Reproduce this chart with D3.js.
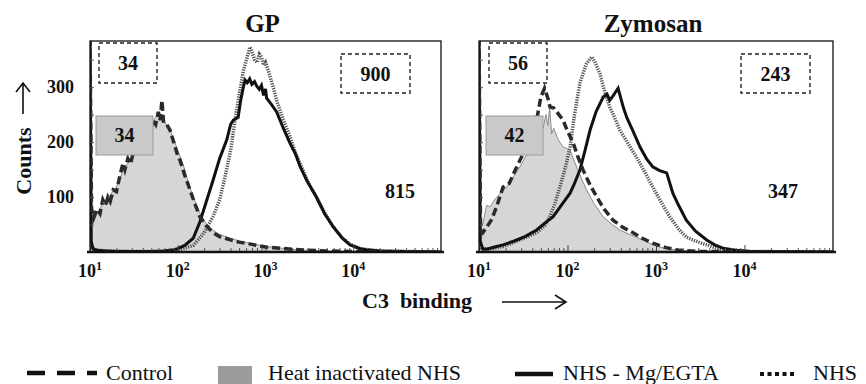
<!DOCTYPE html>
<html><head><meta charset="utf-8">
<script src="https://cdn.jsdelivr.net/npm/d3@7"></script>
<style>
body{margin:0;background:#fff}
svg{display:block}
text{font-family:"Liberation Serif","Times New Roman",serif;fill:#111}
</style>
</head><body>
<svg id="chart" width="866" height="384"></svg>
<script>
// ---------------- DATA ----------------
const panelTitles = ["GP", "Zymosan"];
const seriesNames = ["Control", "Heat inactivated NHS", "NHS - Mg/EGTA", "NHS"];
const xTickValues = [10, 100, 1000, 10000];
const xTickExponents = ["1", "2", "3", "4"];
const yTickValues = [50, 100, 150, 200, 250, 300, 350];
const yLabelValues = [100, 200, 300];
const xAxisTitle = "C3\u00A0\u00A0binding";
const yAxisTitle = "Counts";

// [fluorescence, counts]
const gpControl = [[10,390],[10.4,80],[11,62],[12,78],[13,70],[14,95],[15,85],[16,100],[17,92],[18.4,113],[20,110],[22,140],[23.8,162],[25,150],[27,170],[29,160],[31,180],[34,185],[38,205],[41,195],[44,227],[48,215],[52,240],[56,232],[60,255],[63,240],[66,276],[69,235],[75,232],[81.5,222],[90,200],[100,175],[106,167],[120,140],[138,113],[155,90],[179,64],[210,48],[253,35],[300,28],[400,22],[500,18],[610,16],[800,12],[1000,9],[1460,7],[2000,5],[3000,3],[5000,2],[10000,1],[100000,0]];
const gpHeat = [[10,390],[10.4,65],[11,55],[12,70],[14,88],[16,95],[18,110],[20,118],[24,150],[28,165],[32,180],[38,200],[44,220],[50,235],[56,245],[62,250],[70,238],[80,225],[90,205],[100,185],[115,160],[130,130],[150,100],[180,70],[210,52],[250,40],[300,32],[400,25],[500,20],[700,15],[1000,10],[1500,7],[2000,5],[3000,3],[5000,2],[10000,1],[100000,0]];
const gpMgEgta = [[10,390],[10.3,20],[10.8,6],[12,3],[15,2],[20,1],[30,1],[50,1],[70,2],[90,4],[100,6],[120,12],[150,25],[179,55],[210,90],[253,131],[300,170],[362,204],[400,232],[430,240],[488,245],[520,275],[556,298],[585,313],[620,308],[660,315],[700,305],[750,310],[793,302],[850,296],[900,303],[950,285],[1000,297],[1030,280],[1150,270],[1340,255],[1600,225],[1900,198],[2200,178],[2490,155],[3000,128],[3800,100],[4700,70],[5900,46],[7500,25],[9200,13],[12000,6],[14000,4],[20000,2],[40000,1],[100000,0]];
const gpNhs = [[10,390],[10.3,15],[11,4],[15,2],[30,1],[60,1],[100,3],[150,12],[200,35],[253,65],[300,95],[350,140],[400,185],[450,240],[500,285],[560,330],[620,355],[665,373],[700,365],[750,350],[800,345],[850,360],[900,355],[950,340],[1000,345],[1100,325],[1200,305],[1340,276],[1600,240],[1900,210],[2200,180],[2490,160],[3000,130],[3800,100],[4700,72],[5900,46],[7500,26],[9200,14],[12000,6],[20000,2],[40000,1],[100000,0]];

const zyControl = [[10,390],[10.4,40],[11,35],[12.2,45],[14,60],[16,85],[18.7,118],[22,125],[25,145],[29,167],[33,185],[38,210],[44.8,240],[50,282],[55,298],[60,280],[63.5,264],[70,262],[80,250],[89,240],[100,220],[116,198],[130,175],[150,149],[180,122],[214,100],[260,78],[327,58],[420,45],[550,35],[700,25],[920,16],[1300,8],[1860,3],[3000,1],[100000,0]];
const zyHeat = [[10,390],[10.4,55],[11,50],[12.2,85],[13.3,82],[15,95],[17,105],[20.5,118],[24,135],[29,155],[34,175],[41,198],[46,215],[49,234],[53,225],[57,250],[60,230],[63,264],[66,215],[70,225],[78,205],[89,191],[100,188],[107,185],[130,150],[164,113],[200,88],[253,64],[320,50],[390,40],[500,32],[600,27],[750,20],[920,13],[1100,9],[1430,5],[2000,3],[3000,1],[100000,0]];
const zyMgEgta = [[10,390],[10.3,20],[11,6],[12.2,5],[15,9],[18.7,13],[25,20],[33,28],[44.8,40],[55,52],[68.5,64],[85,85],[107,107],[120,125],[138,149],[155,180],[180,222],[210,255],[253,282],[280,287],[300,276],[330,285],[373,298],[400,280],[430,262],[467,245],[550,220],[660,191],[780,170],[920,155],[1100,148],[1320,144],[1550,107],[1800,85],[2200,58],[2800,38],[3740,22],[4600,13],[5700,7],[8000,3],[12000,1],[100000,0]];
const zyNhs = [[10,390],[10.3,10],[11,5],[14,6],[18.7,10],[25,18],[33,26],[44.8,35],[55,48],[63,64],[72,88],[82,118],[95,155],[107,191],[120,250],[138,307],[150,325],[164,343],[188,355],[205,345],[232,325],[260,295],[300,264],[340,245],[390,222],[480,198],[600,173],[750,145],[920,118],[1150,90],[1430,64],[1800,42],[2200,27],[3000,18],[3740,13],[5000,6],[7000,2],[10000,1],[100000,0]];

// box values: [dashed top-left, grey, dashed right, plain]
const gpBoxValues = ["34", "34", "900", "815"];
const zyBoxValues = ["56", "42", "243", "347"];

// ---------------- LAYOUT ----------------
const svg = d3.select("#chart");
const FONT = '"Liberation Serif","Times New Roman",serif';
const plotTop = 41, plotBottom = 252;
const panels = [
  {title: panelTitles[0], x0: 90, x1: 441, series: [gpHeat, gpNhs, gpMgEgta, gpControl], boxes: gpBoxValues, labels: true,
   bx: {d1: 9, g: 6, d2: 251, p: 310}},
  {title: panelTitles[1], x0: 479, x1: 833, series: [zyHeat, zyNhs, zyMgEgta, zyControl], boxes: zyBoxValues, labels: false,
   bx: {d1: 10, g: 7, d2: 262, p: 304}}
];
const y = d3.scaleLinear().domain([0, 384]).range([plotBottom, plotTop]);

panels.forEach((p, i) => {
  const x = d3.scaleLog().domain([10, 100000]).range([p.x0, p.x1]);
  const g = svg.append("g");
  const clipId = "clip" + i;
  svg.append("clipPath").attr("id", clipId).append("rect")
    .attr("x", p.x0).attr("y", plotTop).attr("width", p.x1 - p.x0).attr("height", plotBottom - plotTop);

  const line = d3.line().x(d => x(d[0])).y(d => y(d[1]));
  const area = d3.area().x(d => x(d[0])).y0(y(0)).y1(d => y(d[1]));
  const plot = g.append("g").attr("clip-path", `url(#${clipId})`);

  plot.append("path").datum(p.series[0]).attr("d", area).attr("fill", "#d6d6d6").attr("stroke", "#8a8a8a").attr("stroke-width", 1);
  plot.append("path").datum(p.series[1]).attr("d", line).attr("fill", "none").attr("stroke", "#555").attr("stroke-width", 3.5).attr("stroke-dasharray", "1.3,1.2");
  plot.append("path").datum(p.series[2]).attr("d", line).attr("fill", "none").attr("stroke", "#111").attr("stroke-width", 3);
  plot.append("path").datum(p.series[3]).attr("d", line).attr("fill", "none").attr("stroke", "#2a2a2a").attr("stroke-width", 3.5).attr("stroke-dasharray", "8,4");

  const minor = [];
  for (let e = 1; e < 5; e++) for (let k = 2; k < 10; k++) minor.push(k * Math.pow(10, e));
  g.append("g").attr("transform", `translate(0,${plotBottom})`)
    .call(d3.axisBottom(x).tickValues(minor).tickSize(-4).tickFormat(""))
    .call(a => { a.select(".domain").remove(); a.selectAll("line").attr("stroke", "#555"); });
  g.append("g").attr("transform", `translate(0,${plotBottom})`)
    .call(d3.axisBottom(x).tickValues(xTickValues).tickSize(-7).tickFormat(""))
    .call(a => { a.select(".domain").remove(); a.selectAll("line").attr("stroke", "#444"); });
  g.append("g").attr("transform", `translate(${p.x0},0)`)
    .call(d3.axisLeft(y).tickValues(yTickValues).tickSize(-4).tickPadding(16)
      .tickFormat(d => (p.labels && yLabelValues.includes(d)) ? d : ""))
    .call(a => {
      a.select(".domain").remove();
      a.selectAll("line").attr("stroke", "#555");
      a.selectAll("text").attr("font-family", FONT).attr("font-size", 18).attr("font-weight", "bold").attr("fill", "#111");
    });

  g.append("rect").attr("x", p.x0).attr("y", plotTop).attr("width", p.x1 - p.x0).attr("height", plotBottom - plotTop)
    .attr("fill", "none").attr("stroke", "#111").attr("stroke-width", 1.3);
  g.append("line").attr("x1", p.x0 - 3).attr("x2", p.x1 + 3).attr("y1", plotBottom).attr("y2", plotBottom)
    .attr("stroke", "#111").attr("stroke-width", 2.5);

  xTickValues.forEach((v, j) => {
    const t = g.append("text").attr("x", x(v)).attr("y", 277).attr("text-anchor", "middle")
      .attr("font-size", 18).attr("font-weight", "bold");
    t.append("tspan").text("10");
    t.append("tspan").attr("font-size", 12).attr("dy", -7).text(xTickExponents[j]);
  });

  g.append("text").attr("x", (p.x0 + p.x1) / 2 - 3).attr("y", 32).attr("text-anchor", "middle")
    .attr("font-size", 25).attr("font-weight", "bold").text(p.title);

  const bw = 58, bh = 40;
  const d1x = p.x0 + p.bx.d1;
  g.append("rect").attr("x", d1x).attr("y", 43).attr("width", bw).attr("height", bh)
    .attr("fill", "#fff").attr("stroke", "#222").attr("stroke-width", 1.4).attr("stroke-dasharray", "4,3");
  g.append("text").attr("x", d1x + bw / 2).attr("y", 70).attr("text-anchor", "middle").attr("font-size", 20).attr("font-weight", "bold").text(p.boxes[0]);
  const gx = p.x0 + p.bx.g;
  g.append("rect").attr("x", gx).attr("y", 116).attr("width", 57).attr("height", 39)
    .attr("fill", "#c9c9c9").attr("stroke", "#9a9a9a").attr("stroke-width", 1);
  g.append("text").attr("x", gx + 28.5).attr("y", 142).attr("text-anchor", "middle").attr("font-size", 20).attr("font-weight", "bold").text(p.boxes[1]);
  const d2x = p.x0 + p.bx.d2;
  g.append("rect").attr("x", d2x).attr("y", 54).attr("width", 69).attr("height", 39)
    .attr("fill", "#fff").attr("stroke", "#222").attr("stroke-width", 1.4).attr("stroke-dasharray", "4,3");
  g.append("text").attr("x", d2x + 34.5).attr("y", 81).attr("text-anchor", "middle").attr("font-size", 20).attr("font-weight", "bold").text(p.boxes[2]);
  g.append("text").attr("x", p.x0 + p.bx.p).attr("y", 198).attr("text-anchor", "middle").attr("font-size", 20).attr("font-weight", "bold").text(p.boxes[3]);
});

svg.append("text").attr("transform", "translate(31,161) rotate(-90)").attr("text-anchor", "middle")
  .attr("font-size", 22).attr("font-weight", "bold").text(yAxisTitle);
svg.append("path").attr("d", "M23,114 L23,83 M16,92 L23,83 L30,92").attr("fill", "none").attr("stroke", "#111").attr("stroke-width", 1.6);

svg.append("text").attr("x", 362).attr("y", 308).attr("font-size", 22).attr("font-weight", "bold").text(xAxisTitle);
svg.append("path").attr("d", "M502,302 L566,302 M555,295 L566,302 L555,309").attr("fill", "none").attr("stroke", "#111").attr("stroke-width", 1.6);

const lg = svg.append("g");
lg.append("line").attr("x1", 27).attr("x2", 97).attr("y1", 373).attr("y2", 373).attr("stroke", "#111").attr("stroke-width", 4.5).attr("stroke-dasharray", "18,12");
lg.append("text").attr("x", 106).attr("y", 380).attr("font-size", 22).text(seriesNames[0]);
lg.append("rect").attr("x", 218).attr("y", 366).attr("width", 34).attr("height", 30).attr("fill", "#9c9c9c");
lg.append("text").attr("x", 268).attr("y", 380).attr("font-size", 22).text(seriesNames[1]);
lg.append("line").attr("x1", 515).attr("x2", 553).attr("y1", 374).attr("y2", 374).attr("stroke", "#111").attr("stroke-width", 4.5);
lg.append("text").attr("x", 563).attr("y", 380).attr("font-size", 22).text(seriesNames[2]);
lg.append("line").attr("x1", 760).attr("x2", 794).attr("y1", 374).attr("y2", 374).attr("stroke", "#111").attr("stroke-width", 4).attr("stroke-dasharray", "4,3.5");
lg.append("text").attr("x", 813).attr("y", 380).attr("font-size", 22).text(seriesNames[3]);
</script>
</body></html>
